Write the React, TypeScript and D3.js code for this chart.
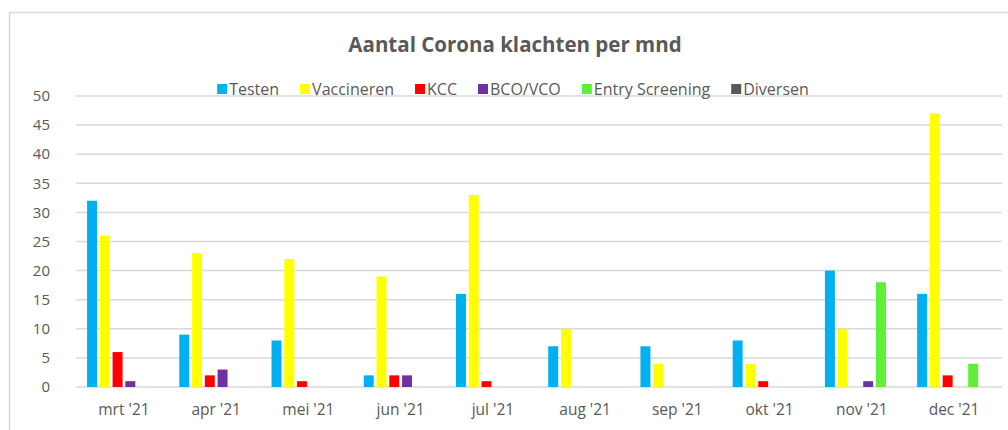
import * as d3 from 'd3';
import React, { useRef, useEffect } from 'react';

const months = ["mrt '21", "apr '21", "mei '21", "jun '21", "jul '21", "aug '21", "sep '21", "okt '21", "nov '21", "dec '21"];
const seriesNames = ['Testen', 'Vaccineren', 'KCC', 'BCO/VCO', 'Entry Screening', 'Diversen'];
const seriesColors = ['#00b0f0', '#ffff00', '#ff0000', '#7030a0', '#5cf03a', '#595959'];

const testen = [32, 9, 8, 2, 16, 7, 7, 8, 20, 16];
const vaccineren = [26, 23, 22, 19, 33, 10, 4, 4, 10, 47];
const kcc = [6, 2, 1, 2, 1, 0, 0, 1, 0, 2];
const bcoVco = [1, 3, 0, 2, 0, 0, 0, 0, 1, 0];
const entryScreening = [0, 0, 0, 0, 0, 0, 0, 0, 18, 4];
const diversen = [0, 0, 0, 0, 0, 0, 0, 0, 0, 0];

const yTicks = [0, 5, 10, 15, 20, 25, 30, 35, 40, 45, 50];

const W = 1008;
const H = 430;
const FONT = "'Open Sans', sans-serif";

export default function App() {
    const ref = useRef<SVGSVGElement | null>(null);

    useEffect(() => {
        const svg = d3.select(ref.current);
        svg.selectAll('*').remove();

        const series = [testen, vaccineren, kcc, bcoVco, entryScreening, diversen];
        const margin = { top: 96, right: 6, bottom: 43, left: 76 };

        // chart frame (only top and left edges are visible in the crop)
        svg.append('path')
            .attr('d', `M9.5,${H} V12.5 H${W}`)
            .attr('fill', 'none')
            .attr('stroke', '#d9d9d9')
            .attr('stroke-width', 1.5);

        const x0 = d3.scaleBand<string>()
            .domain(months)
            .range([margin.left, W - margin.right])
            .paddingInner(0.2)
            .paddingOuter(0.12);

        const x1 = d3.scaleBand<number>()
            .domain(d3.range(series.length))
            .range([0, x0.bandwidth()])
            .paddingInner(0.22);

        const y = d3.scaleLinear()
            .domain([0, 50])
            .range([H - margin.bottom, margin.top]);

        // gridlines
        svg.append('g')
            .selectAll('line')
            .data(yTicks)
            .join('line')
            .attr('x1', margin.left)
            .attr('x2', W - margin.right)
            .attr('y1', d => y(d))
            .attr('y2', d => y(d))
            .attr('stroke', '#d9d9d9')
            .attr('stroke-width', 1.5);

        // y tick labels
        svg.append('g')
            .selectAll('text')
            .data(yTicks)
            .join('text')
            .attr('x', 50)
            .attr('y', d => y(d))
            .attr('dy', '0.35em')
            .attr('text-anchor', 'end')
            .attr('fill', '#595959')
            .style('font-family', FONT)
            .style('font-size', '15px')
            .text(d => d);

        // bars
        const groups = svg.append('g')
            .selectAll('g')
            .data(months)
            .join('g')
            .attr('transform', d => `translate(${x0(d)},0)`);

        groups.selectAll('rect')
            .data((_, i) => series.map((s, k) => ({ k, v: s[i] })))
            .join('rect')
            .attr('x', d => x1(d.k)!)
            .attr('width', x1.bandwidth())
            .attr('y', d => y(d.v))
            .attr('height', d => y(0) - y(d.v))
            .attr('fill', d => seriesColors[d.k]);

        // x labels
        svg.append('g')
            .selectAll('text')
            .data(months)
            .join('text')
            .attr('x', d => x0(d)! + x0.bandwidth() / 2)
            .attr('y', H - 15)
            .attr('text-anchor', 'middle')
            .attr('fill', '#595959')
            .style('font-family', FONT)
            .style('font-size', '15.5px')
            .text(d => d);

        // title
        svg.append('text')
            .attr('x', 515)
            .attr('y', 52)
            .attr('text-anchor', 'middle')
            .attr('fill', '#595959')
            .style('font-family', FONT)
            .style('font-size', '20.5px')
            .style('font-weight', 'bold')
            .text('Aantal Corona klachten per mnd');

        // legend, laid out from measured text widths
        const legend = svg.append('g');
        const items = legend.selectAll('g')
            .data(seriesNames)
            .join('g');
        items.append('rect')
            .attr('width', 10)
            .attr('height', 10)
            .attr('y', -5)
            .attr('fill', (_, i) => seriesColors[i]);
        const labels = items.append('text')
            .attr('x', 12)
            .attr('dy', '0.35em')
            .attr('fill', '#595959')
            .style('font-family', FONT)
            .style('font-size', '16px')
            .text(d => d);
        const widths: number[] = [];
        labels.each(function () { widths.push((this as SVGTextElement).getComputedTextLength()); });
        const gap = 21;
        const total = d3.sum(widths, w => w + 12) + gap * (widths.length - 1);
        let cx = 513 - total / 2;
        items.attr('transform', (_, i) => {
            const t = `translate(${cx},89)`;
            cx += widths[i] + 12 + gap;
            return t;
        });
    }, []);

    return (
        <svg
            ref={ref}
            width={W}
            height={H}
            style={{ position: 'absolute', left: 0, top: 0, background: '#fff' }}
        />
    );
}
